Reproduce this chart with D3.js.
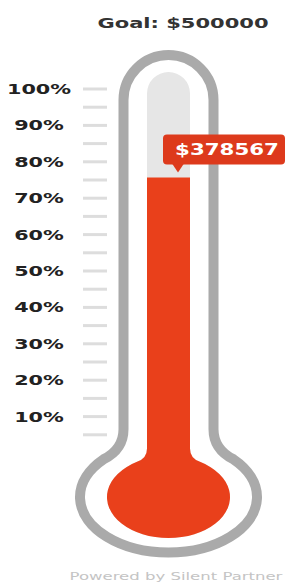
<!DOCTYPE html>
<html>
<head>
<meta charset="utf-8">
<script src="https://cdn.jsdelivr.net/npm/d3@7"></script>
<style>
  html, body { margin: 0; padding: 0; background: #fff; }
  svg { display: block; }
</style>
</head>
<body>
<script>
// fundraising thermometer
const goal = 500000;
const raised = 378567;
const majorTicks = [10, 20, 30, 40, 50, 60, 70, 80, 90, 100];
const minorTicks = [5, 15, 25, 35, 45, 55, 65, 75, 85, 95];
const tickLabels = ["10%", "20%", "30%", "40%", "50%", "60%", "70%", "80%", "90%", "100%"];

const width = 289,
  height = 582;

const svg = d3
  .select("body")
  .append("svg")
  .attr("width", width)
  .attr("height", height)
  .attr("viewBox", [0, 0, width, height]);

const cx = 168.5,
  bulbY = 497;

const y = d3.scaleLinear().domain([0, 100]).range([453, 89]);

// stretch text horizontally like the original render
function stretch(sel, k) {
  sel.each(function () {
    const w = this.getComputedTextLength();
    d3.select(this).attr("textLength", w * k).attr("lengthAdjust", "spacingAndGlyphs");
  });
}

// tube + bulb outline, with a fillet where they meet
function bulbPath(hw, topY, rx, ry, f, roundTop) {
  const jy = bulbY - ry * Math.sqrt(1 - (hw / rx) ** 2);
  const py = bulbY - ry * Math.sqrt(1 - ((hw + f) / rx) ** 2);
  const p = d3.path();
  if (roundTop) {
    p.moveTo(cx - hw, topY + hw);
    p.arc(cx, topY + hw, hw, Math.PI, 0);
  } else {
    p.moveTo(cx - hw, topY);
    p.lineTo(cx + hw, topY);
  }
  p.lineTo(cx + hw, jy - f);
  p.quadraticCurveTo(cx + hw, jy, cx + hw + f, py);
  let s = p.toString();
  s += `A${rx},${ry},0,1,1,${cx - hw - f},${py}`;
  s += `Q${cx - hw},${jy},${cx - hw},${jy - f}Z`;
  return s;
}

// goal title
svg
  .append("text")
  .attr("x", 183)
  .attr("y", 28)
  .attr("text-anchor", "middle")
  .attr("font-family", "DejaVu Sans")
  .attr("font-weight", "bold")
  .attr("font-size", 14)
  .attr("fill", "#333")
  .text("Goal: $" + goal)
  .call(stretch, 1.5);

// outer glass
svg
  .append("path")
  .attr("d", bulbPath(45, 55, 88.5, 55.5, 20, true))
  .attr("fill", "#fff")
  .attr("stroke", "#aaa")
  .attr("stroke-width", 10);

// empty track
svg
  .append("path")
  .attr("d", bulbPath(21.5, 72, 61.5, 41, 10, true))
  .attr("fill", "#e6e6e6");

// mercury
const pct = (raised / goal) * 100;
const topY = y(pct);
svg
  .append("path")
  .attr("d", bulbPath(21.5, topY, 61.5, 41, 10, false))
  .attr("fill", "#e9401b");

// tick marks
svg
  .append("g")
  .selectAll("line")
  .data(majorTicks.concat(minorTicks))
  .join("line")
  .attr("x1", 83)
  .attr("x2", 107)
  .attr("y1", (d) => y(d))
  .attr("y2", (d) => y(d))
  .attr("stroke", "#ddd")
  .attr("stroke-width", 3);

svg
  .append("g")
  .selectAll("text")
  .data(majorTicks)
  .join("text")
  .attr("x", 39)
  .attr("y", (d) => y(d) + 5)
  .attr("text-anchor", "middle")
  .attr("font-family", "DejaVu Sans")
  .attr("font-weight", "bold")
  .attr("font-size", 14)
  .attr("fill", "#222")
  .text((d, i) => tickLabels[i])
  .call(stretch, 1.48);

// amount bubble
const boxBottom = topY - 13,
  boxH = 30,
  boxL = 163,
  boxR = 285,
  tipX = 178;
const bubble = svg.append("g");
bubble
  .append("rect")
  .attr("x", boxL)
  .attr("y", boxBottom - boxH)
  .attr("width", boxR - boxL)
  .attr("height", boxH)
  .attr("rx", 4)
  .attr("fill", "#dd3a1c");
bubble
  .append("path")
  .attr(
    "d",
    `M${tipX - 6},${boxBottom - 1}L${tipX + 6},${boxBottom - 1}L${tipX},${topY - 5}Z`
  )
  .attr("fill", "#dd3a1c");
bubble
  .append("text")
  .attr("x", (boxL + boxR) / 2 + 3)
  .attr("y", boxBottom - boxH / 2 + 6)
  .attr("text-anchor", "middle")
  .attr("font-family", "DejaVu Sans")
  .attr("font-weight", "bold")
  .attr("font-size", 15)
  .attr("fill", "#fff")
  .text("$" + raised)
  .call(stretch, 1.42);

// footer
svg
  .append("text")
  .attr("x", 176)
  .attr("y", 580)
  .attr("text-anchor", "middle")
  .attr("font-family", "DejaVu Sans")
  .attr("font-size", 11)
  .attr("fill", "#c4c4c4")
  .text("Powered by Silent Partner")
  .call(stretch, 1.5);
</script>
</body>
</html>
